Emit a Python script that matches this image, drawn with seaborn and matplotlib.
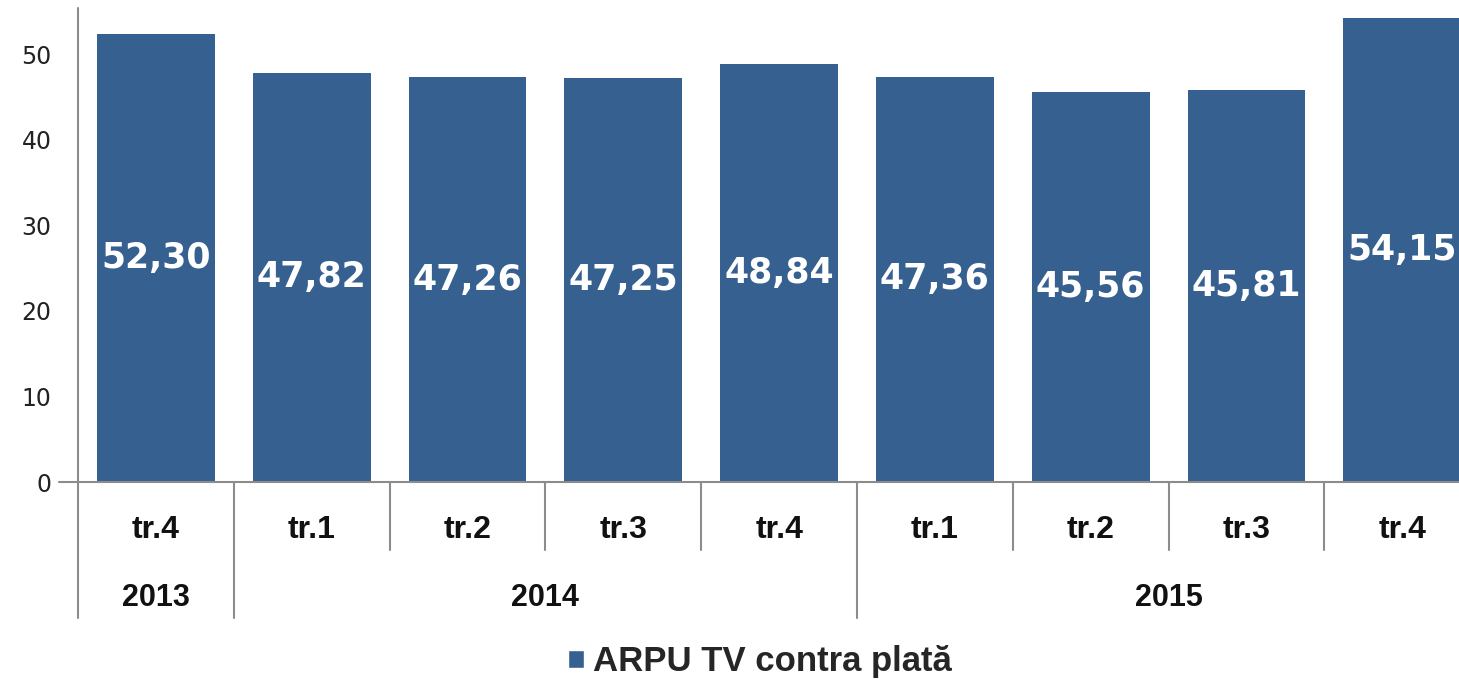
import numpy as np
import pandas as pd
import matplotlib
matplotlib.use("Agg")
import matplotlib.pyplot as plt
from matplotlib.patches import Patch
import seaborn as sns

# date
trimestre = ["tr.4", "tr.1", "tr.2", "tr.3", "tr.4", "tr.1", "tr.2", "tr.3", "tr.4"]
ani = ["2013", "2014", "2015"]
ani_span = [(0, 1), (1, 5), (5, 9)]   # trimestre acoperite de fiecare an
arpu = [52.30, 47.82, 47.26, 47.25, 48.84, 47.36, 45.56, 45.81, 54.15]
serie = "ARPU TV contra plată"

culoare = "#36608f"
gri = "#8c8c8c"

df = pd.DataFrame({"poz": list(range(len(arpu))), "ARPU": arpu})

sns.set_style("white")
fig = plt.figure(figsize=(14.59, 6.84), dpi=100)
W, H = 1459, 684
x0, x1 = 78, 78 + 9 * 155.8
ax = fig.add_axes([x0 / W, 1 - 482 / H, (x1 - x0) / W, 482 / H])

sns.barplot(data=df, x="poz", y="ARPU", color=culoare, width=0.757,
            saturation=1, ax=ax, edgecolor="none")
ax.set_xlim(-0.5, 8.5)
ax.set_ylim(0, 482 / 8.56)
ax.set_xlabel("")
ax.set_ylabel("")
ax.set_xticks([])
ax.set_yticks([0, 10, 20, 30, 40, 50])
ax.tick_params(axis="y", length=7, width=1.5, color=gri, pad=12,
               labelsize=17, labelcolor="#222222")
for s in ax.spines.values():
    s.set_visible(False)

# etichete valori
for i, v in enumerate(arpu):
    ax.text(i, v / 2, f"{v:.2f}".replace(".", ","), ha="center", va="center",
            color="white", fontsize=25, fontweight="bold", family="DejaVu Sans")

# axa categoriilor pe doua niveluri
tr = ax.get_xaxis_transform()
px = 1 / 482
ax.plot([-0.62, 8.5], [0, 0], color=gri, lw=1.5, transform=tr, clip_on=False)
ax.plot([-0.5, -0.5], [-136 * px, 1 - 8 * px], color=gri, lw=1.5,
        transform=tr, clip_on=False)
lungi = [b for span in ani_span for b in span]
for b in range(1, 9):
    jos = -136 * px if b in lungi else -68 * px
    ax.plot([b - 0.5, b - 0.5], [0, jos], color=gri, lw=1.5,
            transform=tr, clip_on=False)
for i, t in enumerate(trimestre):
    ax.text(i, -48 * px, t, ha="center", va="center", fontsize=23,
            fontweight="bold", family="Liberation Sans", color="#111111",
            transform=tr)
for an, (a, b) in zip(ani, ani_span):
    ax.text((a + b - 1) / 2, -116 * px, an, ha="center", va="center",
            fontsize=22, fontweight="bold", family="Liberation Sans",
            color="#111111", transform=tr)

# legenda
fig.legend(handles=[Patch(facecolor=culoare, label=serie)],
           loc="center", bbox_to_anchor=(760 / W, 1 - 662 / H),
           frameon=False, handlelength=0.45, handleheight=0.45,
           handletextpad=0.25,
           prop={"family": "Liberation Sans", "weight": "bold", "size": 25})

fig.savefig("out.png", dpi=100)
